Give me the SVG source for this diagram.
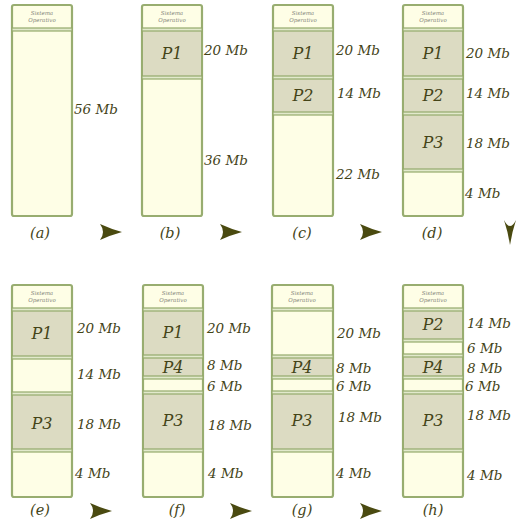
<svg xmlns="http://www.w3.org/2000/svg" width="528" height="528" viewBox="0 0 528 528">
<style>
.col{fill:#fefee6;stroke:#98ad70;stroke-width:2.2}
.p{fill:#dcdbc2}
.dv{fill:#e2e9cc;stroke:#94aa6c;stroke-width:1.2}
.os{font-family:"DejaVu Serif",serif;font-style:italic;font-size:5.5px;fill:#85857a;text-anchor:middle}
.pn{font-family:"DejaVu Serif",serif;font-style:italic;font-size:16px;fill:#444418;text-anchor:middle}
.mb{font-family:"DejaVu Serif",serif;font-style:italic;font-size:13.5px;fill:#444418}
.lb{font-family:"DejaVu Serif",serif;font-style:italic;font-size:14.5px;fill:#444418;text-anchor:middle}
.ar{fill:#4a4a10}
</style>
<defs>
<path id="ra" d="M0,0 Q11,5 22,8 Q11,11 0,16 Q6,8 0,0 Z"/>
</defs>
<rect width="528" height="528" fill="#ffffff"/>

<g id="a">
<rect class="col" x="12" y="5" width="60" height="211" rx="2"/>
<text class="os" x="42" y="15">Sistema</text><text class="os" x="42" y="22">Operativo</text>
<rect class="dv" x="12" y="28" width="60" height="3"/>
<text class="mb" x="74" y="114">56 Mb</text>
<text class="lb" x="40" y="238">(a)</text>
</g>

<g id="b">
<rect class="col" x="142" y="5" width="60" height="211" rx="2"/>
<text class="os" x="172" y="15">Sistema</text><text class="os" x="172" y="22">Operativo</text>
<rect class="p" x="143" y="31" width="58" height="45"/>
<rect class="dv" x="142" y="28" width="60" height="3"/>
<rect class="dv" x="142" y="76" width="60" height="3"/>
<text class="pn" x="172" y="59">P1</text>
<text class="mb" x="204" y="55">20 Mb</text>
<text class="mb" x="204" y="165">36 Mb</text>
<text class="lb" x="170" y="238">(b)</text>
</g>

<g id="c">
<rect class="col" x="273" y="5" width="60" height="211" rx="2"/>
<text class="os" x="303" y="15">Sistema</text><text class="os" x="303" y="22">Operativo</text>
<rect class="p" x="274" y="31" width="58" height="81"/>
<rect class="dv" x="273" y="28" width="60" height="3"/>
<rect class="dv" x="273" y="76" width="60" height="3"/>
<rect class="dv" x="273" y="112" width="60" height="3"/>
<text class="pn" x="303" y="59">P1</text>
<text class="pn" x="303" y="101">P2</text>
<text class="mb" x="336" y="55">20 Mb</text>
<text class="mb" x="337" y="98">14 Mb</text>
<text class="mb" x="336" y="179">22 Mb</text>
<text class="lb" x="302" y="238">(c)</text>
</g>

<g id="d">
<rect class="col" x="403" y="5" width="60" height="211" rx="2"/>
<text class="os" x="433" y="15">Sistema</text><text class="os" x="433" y="22">Operativo</text>
<rect class="p" x="404" y="31" width="58" height="138"/>
<rect class="dv" x="403" y="28" width="60" height="3"/>
<rect class="dv" x="403" y="76" width="60" height="3"/>
<rect class="dv" x="403" y="112" width="60" height="3"/>
<rect class="dv" x="403" y="169" width="60" height="3"/>
<text class="pn" x="433" y="59">P1</text>
<text class="pn" x="433" y="101">P2</text>
<text class="pn" x="433" y="148">P3</text>
<text class="mb" x="466" y="58">20 Mb</text>
<text class="mb" x="466" y="98">14 Mb</text>
<text class="mb" x="466" y="148">18 Mb</text>
<text class="mb" x="465" y="198">4 Mb</text>
<text class="lb" x="432" y="238">(d)</text>
</g>

<g id="e">
<rect class="col" x="12" y="285" width="60" height="212" rx="2"/>
<text class="os" x="42" y="295">Sistema</text><text class="os" x="42" y="302">Operativo</text>
<rect class="p" x="13" y="311" width="58" height="45"/>
<rect class="p" x="13" y="395" width="58" height="54"/>
<rect class="dv" x="12" y="308" width="60" height="3"/>
<rect class="dv" x="12" y="356" width="60" height="3"/>
<rect class="dv" x="12" y="392" width="60" height="3"/>
<rect class="dv" x="12" y="449" width="60" height="3"/>
<text class="pn" x="42" y="339">P1</text>
<text class="pn" x="42" y="429">P3</text>
<text class="mb" x="77" y="333">20 Mb</text>
<text class="mb" x="77" y="379">14 Mb</text>
<text class="mb" x="77" y="429">18 Mb</text>
<text class="mb" x="75" y="478">4 Mb</text>
<text class="lb" x="40" y="515">(e)</text>
</g>

<g id="f">
<rect class="col" x="143" y="285" width="60" height="212" rx="2"/>
<text class="os" x="173" y="295">Sistema</text><text class="os" x="173" y="302">Operativo</text>
<rect class="p" x="144" y="311" width="58" height="65"/>
<rect class="p" x="144" y="394" width="58" height="55"/>
<rect class="dv" x="143" y="308" width="60" height="3"/>
<rect class="dv" x="143" y="355" width="60" height="3"/>
<rect class="dv" x="143" y="376" width="60" height="3"/>
<rect class="dv" x="143" y="391" width="60" height="3"/>
<rect class="dv" x="143" y="449" width="60" height="3"/>
<text class="pn" x="173" y="338">P1</text>
<text class="pn" x="173" y="373">P4</text>
<text class="pn" x="173" y="426">P3</text>
<text class="mb" x="207" y="333">20 Mb</text>
<text class="mb" x="207" y="370">8 Mb</text>
<text class="mb" x="207" y="391">6 Mb</text>
<text class="mb" x="208" y="430">18 Mb</text>
<text class="mb" x="208" y="478">4 Mb</text>
<text class="lb" x="177" y="515">(f)</text>
</g>

<g id="g">
<rect class="col" x="272" y="285" width="61" height="212" rx="2"/>
<text class="os" x="302" y="295">Sistema</text><text class="os" x="302" y="302">Operativo</text>
<rect class="p" x="273" y="358" width="59" height="18"/>
<rect class="p" x="273" y="394" width="59" height="55"/>
<rect class="dv" x="272" y="308" width="61" height="3"/>
<rect class="dv" x="272" y="355" width="61" height="3"/>
<rect class="dv" x="272" y="376" width="61" height="3"/>
<rect class="dv" x="272" y="391" width="61" height="3"/>
<rect class="dv" x="272" y="449" width="61" height="3"/>
<text class="pn" x="302" y="373">P4</text>
<text class="pn" x="302" y="426">P3</text>
<text class="mb" x="337" y="338">20 Mb</text>
<text class="mb" x="336" y="373">8 Mb</text>
<text class="mb" x="336" y="391">6 Mb</text>
<text class="mb" x="338" y="422">18 Mb</text>
<text class="mb" x="336" y="478">4 Mb</text>
<text class="lb" x="302" y="515">(g)</text>
</g>

<g id="h">
<rect class="col" x="403" y="285" width="60" height="212" rx="2"/>
<text class="os" x="433" y="295">Sistema</text><text class="os" x="433" y="302">Operativo</text>
<rect class="p" x="404" y="311" width="58" height="28"/>
<rect class="p" x="404" y="357" width="58" height="19"/>
<rect class="p" x="404" y="394" width="58" height="55"/>
<rect class="dv" x="403" y="308" width="60" height="3"/>
<rect class="dv" x="403" y="339" width="60" height="3"/>
<rect class="dv" x="403" y="354" width="60" height="3"/>
<rect class="dv" x="403" y="376" width="60" height="3"/>
<rect class="dv" x="403" y="391" width="60" height="3"/>
<rect class="dv" x="403" y="449" width="60" height="3"/>
<text class="pn" x="433" y="330">P2</text>
<text class="pn" x="433" y="373">P4</text>
<text class="pn" x="433" y="426">P3</text>
<text class="mb" x="467" y="328">14 Mb</text>
<text class="mb" x="467" y="353">6 Mb</text>
<text class="mb" x="467" y="373">8 Mb</text>
<text class="mb" x="465" y="391">6 Mb</text>
<text class="mb" x="467" y="420">18 Mb</text>
<text class="mb" x="467" y="480">4 Mb</text>
<text class="lb" x="433" y="515">(h)</text>
</g>

<g id="connectors" class="ar">
<use href="#ra" x="100" y="224"/>
<use href="#ra" x="220" y="224"/>
<use href="#ra" x="360" y="224"/>
<path d="M504,220 Q507,226 510,226 Q513,226 516,220 Q512,232 510,245 Q508,232 504,220 Z"/>
<use href="#ra" x="90" y="503"/>
<use href="#ra" x="230" y="503"/>
<use href="#ra" x="360" y="503"/>
</g>
</svg>
